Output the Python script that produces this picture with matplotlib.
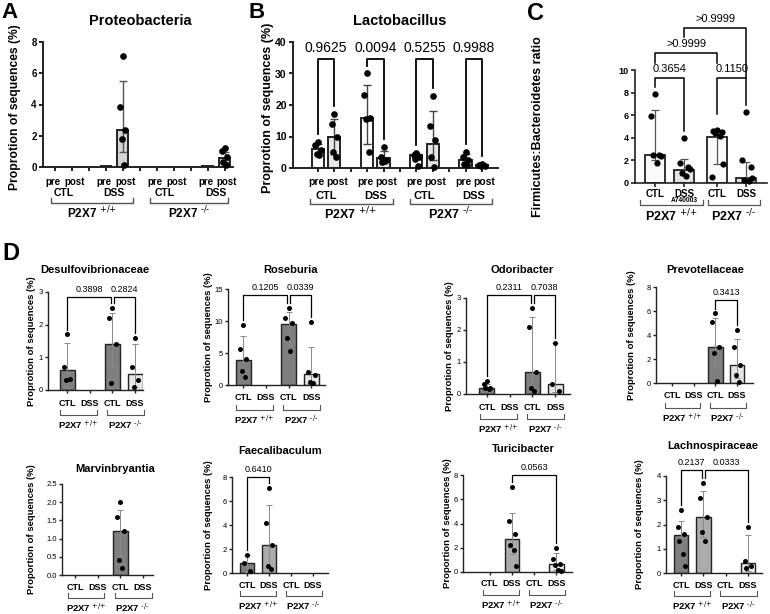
import numpy as np
import matplotlib.pyplot as plt

plt.rcParams['font.family'] = ['Liberation Sans', 'DejaVu Sans']
plt.rcParams['mathtext.default'] = 'regular'

nan = np.nan
W, H = 770, 614

# ---------------- data ----------------
# A - Proteobacteria (pre/post x CTL/DSS x genotype)
a_vals = [nan, nan, 0.06, 2.4, nan, nan, 0.06, 0.6]
a_lo = [nan, nan, nan, 0.95, nan, nan, nan, 0.35]
a_hi = [nan, nan, nan, 5.5, nan, nan, nan, 0.95]
a_pts = [[], [], [], [7.1, 3.85, 2.4, 1.8, 0.15], [], [], [], [1.2, 1.0, 0.65, 0.3, 0.15]]

# B - Lactobacillus
b_vals = [5.9, 9.9, 16.0, 3.3, 4.0, 7.5, 2.4, 1.0]
b_lo = [4.5, 4.5, 7.7, 2.0, 3.2, 2.5, 1.2, 0.7]
b_hi = [7.5, 15.6, 26.4, 5.4, 4.9, 18.0, 4.3, 1.3]
b_pts = [[8.2, 7.4, 5.6, 4.5, 4.0], [17.2, 14.0, 10.0, 5.0, 3.6],
         [30.0, 23.2, 16.0, 15.5, 5.1], [6.8, 3.5, 2.6, 1.9, 2.2],
         [4.7, 4.0, 3.5, 2.9, 0.5], [23.0, 13.2, 9.0, 3.5, 0.3],
         [5.1, 3.5, 2.4, 1.4, 0.8], [1.4, 0.8, 0.6, 0.5]]
b_pvals = ['0.9625', '0.0094', '0.5255', '0.9988']

# C - Firmicutes:Bacteroidetes ratio
c_vals = [2.5, 1.15, 4.1, 0.45]
c_lo = [2.0, 0.7, 1.7, 0.2]
c_hi = [6.5, 2.1, 4.7, 1.9]
c_pts = [[7.9, 5.9, 2.5, 2.5, 1.8, 2.4], [4.0, 1.8, 1.4, 0.9, 0.6, 1.2],
         [4.7, 4.6, 4.5, 4.4, 4.2, 1.7, 0.5], [6.3, 2.0, 1.4, 0.3, 0.2, 0.4]]
c_comps = [(0, 1, '0.3654', 9.3), (2, 3, '0.1150', 9.3),
           (0, 2, '>0.9999', 11.5), (1, 3, '>0.9999', 13.7)]

# D - genera (CTL+/+, DSS+/+, CTL-/-, DSS-/-)
d_titles = ['Desulfovibrionaceae', 'Roseburia', 'Odoribacter', 'Prevotellaceae',
            'Marvinbryantia', 'Faecalibaculum', 'Turicibacter', 'Lachnospiraceae']
d_ymax = [3, 15, 3, 8, 2.5, 8, 8, 4]
d_step = [1, 5, 1, 2, 0.5, 2, 2, 1]
d_vals = [[0.6, nan, 1.4, 0.5], [3.9, nan, 9.5, 1.7], [0.2, nan, 0.7, 0.3],
          [nan, nan, 3.0, 1.5], [nan, nan, 1.2, nan], [0.8, 2.3, nan, nan],
          [nan, 2.7, nan, 0.7], [1.55, 2.3, nan, 0.4]]
d_lo = [[0.1, nan, 0.7, 0.1], [1.8, nan, 6.3, 0.5], [0.1, nan, 0.1, 0.05],
        [nan, nan, 1.3, 0.4], [nan, nan, 0.3, nan], [0.1, 0.5, nan, nan],
        [nan, 1.5, nan, 0.2], [0.7, 1.5, nan, 0.1]]
d_hi = [[1.45, nan, 2.35, 1.4], [7.6, nan, 11.4, 6.0], [0.3, nan, 2.4, 1.6],
        [nan, nan, 5.4, 3.7], [nan, nan, 1.78, nan], [1.5, 5.7, nan, nan],
        [nan, 4.9, nan, 1.6], [2.15, 3.4, nan, 1.55]]
d_pts = [
    [[1.7, 0.7, 0.35, 0.3], [], [2.5, 2.2, 1.4, 0.2], [1.6, 0.7, 0.3, 0.1]],
    [[9.4, 5.7, 4.0, 2.2, 1.3], [], [12.1, 10.5, 9.7, 7.4, 5.3], [9.8, 2.1, 1.6, 0.5, 0.3]],
    [[0.4, 0.3, 0.2, 0.2, 0.15], [], [2.7, 2.1, 0.7, 0.2, 0.1], [1.6, 0.3, 0.1]],
    [[], [], [5.8, 5.1, 3.0, 2.5, 0.2], [4.4, 3.0, 1.5, 0.7, 0.1]],
    [[], [], [2.0, 1.6, 1.2, 0.4, 0.2], []],
    [[1.5, 0.8, 0.2], [7.1, 4.2, 2.3, 0.6, 0.3], [], []],
    [[], [7.0, 4.2, 3.1, 2.2, 1.8, 0.5], [], [2.0, 1.1, 0.7, 0.6, 0.2, 0.1]],
    [[2.6, 1.9, 1.6, 1.3, 0.8, 0.3], [3.7, 3.1, 2.3, 1.7, 1.3], [], [1.9, 0.5, 0.3, 0.2]],
]
d_comps = [[(0, 2, '0.3898'), (2, 3, '0.2824')], [(0, 2, '0.1205'), (2, 3, '0.0339')],
           [(0, 2, '0.2311'), (2, 3, '0.7038')], [(2, 3, '0.3413')], [],
           [(0, 1, '0.6410')], [(1, 3, '0.0563')], [(0, 1, '0.2137'), (1, 3, '0.0333')]]
d_comp_top = [2.85, 14.1, 3.1, 6.9, 0, 8.0, 8.0, 4.25]
d_ylabel = ['Proprotion'] * 4 + ['Proportion'] * 4

# layout: axes pixel boxes (x0, x1, ytop, ybot) and xlims
d_box = [(48, 143, 292, 390), (228, 325, 289, 385), (466, 570, 298, 394), (656, 753, 287, 383),
         (62, 153, 484, 575), (232, 328, 477, 573), (463, 572, 475, 572), (666, 762, 476, 573)]
d_xlim = [(-0.84, 3.35), (-0.66, 3.6), (-0.92, 3.65), (-0.73, 3.73),
          (-0.57, 3.44), (-0.68, 3.68), (-1.2, 3.7), (-0.67, 3.63)]
d_title_xy = [(95, 270), (290, 270), (522, 270), (705, 270),
              (115, 469), (280, 451), (523, 449), (713, 446)]
d_ylab_x = [31, 209, 449, 632, 32, 209, 448, 639]

jit = [0.0, -0.22, 0.22, -0.1, 0.12, 0.28, -0.28]

fig = plt.figure(figsize=(W / 100, H / 100), dpi=100)


def add_ax(x0, x1, ytop, ybot, xlim, ylim, lw):
    ax = fig.add_axes([x0 / W, 1 - ybot / H, (x1 - x0) / W, (ybot - ytop) / H])
    ax.set_xlim(*xlim)
    ax.set_ylim(*ylim)
    ax.patch.set_alpha(0)
    for s in ['top', 'right']:
        ax.spines[s].set_visible(False)
    for s in ['left', 'bottom']:
        ax.spines[s].set_linewidth(lw)
        ax.spines[s].set_color('#222222')
    ax.tick_params(width=lw, length=3, color='#222222', pad=1.5)
    return ax


def below(ax, px):
    # pixels below the x axis -> axes fraction
    return -px / (ax.get_position().height * H)


def draw_bars(ax, pos, vals, lo, hi, pts, colors, width, ms, lw, ecol, elw, cap):
    for x, v, l, h, p, c in zip(pos, vals, lo, hi, pts, colors):
        if np.isnan(v):
            continue
        ax.bar(x, v, width, color=c, edgecolor='#222222', linewidth=lw, zorder=2)
        if not np.isnan(h):
            ax.errorbar(x, v, yerr=[[v - l], [h - v]], fmt='none', ecolor=ecol,
                        elinewidth=elw, capsize=cap, capthick=elw, zorder=3)
        xs = [x + jit[i % len(jit)] * width for i in range(len(p))]
        ax.plot(xs, p, 'o', color='black', ms=ms, mew=0, zorder=4, clip_on=False)


def cat_labels(ax, pos, labels, px, size, weight='bold', dx=None):
    for i, (x, t) in enumerate(zip(pos, labels)):
        off = dx[i] if dx else 0
        ax.text(x + off, below(ax, px), t, transform=ax.get_xaxis_transform(), ha='center',
                va='center', fontsize=size, fontweight=weight)


def group_bracket(ax, x1, x2, px, tick, lw):
    y = below(ax, px)
    t = tick / (ax.get_position().height * H)
    ax.plot([x1, x1, x2, x2], [y + t, y, y, y + t], color='#555555', lw=lw,
            transform=ax.get_xaxis_transform(), clip_on=False)


def sig(ax, x1, x2, top, yl, yr, text, size, lw, pad):
    ax.plot([x1, x1, x2, x2], [yl, top, top, yr], color='black', lw=lw, clip_on=False, zorder=5)
    ax.annotate(text, ((x1 + x2) / 2, top), xytext=(0, pad), textcoords='offset points',
                ha='center', va='bottom', fontsize=size, annotation_clip=False)


def geno(ax, x, px, which, size):
    sup = '+/+' if which == 0 else '-/-'
    ax.text(x, below(ax, px), r'P2X7 $^{\text{' + sup + '}}$', transform=ax.get_xaxis_transform(),
            ha='center', va='center', fontsize=size, fontweight='bold')


def ylab(text, x, ax, size, dy=0):
    b = ax.get_position()
    fig.text(x / W, b.y0 + b.height / 2 - dy / H, text, rotation=90, ha='center', va='center',
             fontsize=size, fontweight='bold')


pp_pos = [0, 1, 3, 4, 6, 7, 9, 10]
pp_ticks = list(range(11))
pp_labels = ['pre', 'post'] * 4
pp_dx = [-0.1, 0.15] * 4

# ---------------- A ----------------
ax = add_ax(43, 233, 42, 167, (-0.7, 10.5), (0, 8), 1.4)
draw_bars(ax, pp_pos, a_vals, a_lo, a_hi, a_pts, ['#d4d4d4'] * 8, 0.62, 4.8, 1.4, '#555555', 1.0, 3)
ax.set_yticks([0, 2, 4, 6, 8])
ax.set_xticks(pp_ticks)
ax.set_xticklabels([])
for t in ax.get_yticklabels():
    t.set_fontsize(7)
    t.set_fontweight('bold')
cat_labels(ax, pp_pos, pp_labels, 15, 7, dx=pp_dx)
cat_labels(ax, [0.5, 3.5, 6.5, 9.5], ['CTL', 'DSS', 'CTL', 'DSS'], 26, 7.5)
group_bracket(ax, -0.2, 4.6, 36, 5, 1.0)
group_bracket(ax, 5.6, 10.2, 36, 5, 1.0)
geno(ax, 2.2, 46, 0, 8.5)
geno(ax, 7.9, 46, 1, 8.5)
fig.text(140 / W, 1 - 21 / H, 'Proteobacteria', ha='center', va='center', fontsize=10.5, fontweight='bold')
ylab('Proprotion of sequences (%)', 15, ax, 8.7, dy=3)
fig.text(1 / W, 1 - 12 / H, 'A', ha='left', va='center', fontsize=16, fontweight='bold')

# ---------------- B ----------------
ax = add_ax(293, 498, 42, 168, (-1.52, 10.98), (0, 40), 1.4)
b_cols = ['white', '#e6e6e6'] * 4
draw_bars(ax, pp_pos, b_vals, b_lo, b_hi, b_pts, b_cols, 0.75, 4.8, 1.4, '#444444', 1.0, 3)
ax.set_yticks([0, 10, 20, 30, 40])
ax.set_xticks(pp_ticks)
ax.set_xticklabels([])
for t in ax.get_yticklabels():
    t.set_fontsize(7.5)
    t.set_fontweight('bold')
for i, p in enumerate(b_pvals):
    x1, x2 = pp_pos[2 * i], pp_pos[2 * i + 1]
    yl = max(b_pts[2 * i] + [b_hi[2 * i]]) + 2.5
    yr = max(b_pts[2 * i + 1] + [b_hi[2 * i + 1]]) + 2.5
    sig(ax, x1, x2, 34.5, yl, yr, p, 10, 1.3, 3)
cat_labels(ax, pp_pos, pp_labels, 14, 7.5, dx=pp_dx)
cat_labels(ax, [0.5, 3.5, 6.5, 9.5], ['CTL', 'DSS', 'CTL', 'DSS'], 28, 8)
group_bracket(ax, -0.5, 4.57, 36, 5, 1.0)
group_bracket(ax, 5.6, 10.6, 36, 5, 1.0)
geno(ax, 2.0, 46, 0, 9)
geno(ax, 8.1, 46, 1, 9)
fig.text(400 / W, 1 - 21 / H, 'Lactobacillus', ha='center', va='center', fontsize=10.5, fontweight='bold')
ylab('Proprotion of sequences (%)', 268, ax, 9, dy=3)
fig.text(249 / W, 1 - 12 / H, 'B', ha='left', va='center', fontsize=16, fontweight='bold')

# ---------------- C ----------------
c_pos = [0, 1, 2.15, 3.15]
ax = add_ax(635, 767, 70, 183, (-0.69, 3.86), (0, 10), 1.2)
draw_bars(ax, c_pos, c_vals, c_lo, c_hi, c_pts, ['#fafafa', '#e4e4e4', '#fafafa', '#e4e4e4'],
          0.69, 4.5, 1.3, '#555555', 0.9, 3)
ax.set_yticks([0, 2, 4, 6, 8, 10])
ax.set_xticks(c_pos)
ax.set_xticklabels([])
for t in ax.get_yticklabels():
    t.set_fontsize(6.5)
    t.set_fontweight('bold')
legs = {(0, 1): (8.5, 4.6), (2, 3): (6.1, 6.9), (0, 2): (10.6, 10.6), (1, 3): (12.9, 9.3)}
for i, j, p, top in c_comps:
    yl, yr = legs[(i, j)]
    sig(ax, c_pos[i], c_pos[j], top, yl, yr, p, 8, 1.1, 3)
cat_labels(ax, c_pos, ['CTL', 'DSS', 'CTL', 'DSS'], 11, 7)
cat_labels(ax, [1], ['A740003'], 18, 4.8)
group_bracket(ax, -0.52, 1.66, 22, 5, 0.9)
group_bracket(ax, 1.83, 3.62, 22, 5, 0.9)
geno(ax, 0.57, 33, 0, 9)
geno(ax, 2.72, 33, 1, 9)
ylab('Firmicutes:Bacteroidetes ratio', 538, ax, 9)
fig.text(527 / W, 1 - 13 / H, 'C', ha='left', va='center', fontsize=17, fontweight='bold')

# ---------------- D ----------------
fig.text(2 / W, 1 - 254 / H, 'D', ha='left', va='center', fontsize=17, fontweight='bold')
d_cols = ['#7f7f7f', '#ababab', '#7f7f7f', '#e6e6e6']
d_pos = [0, 1, 2, 3]
for k in range(8):
    x0, x1, yt, yb = d_box[k]
    ymax = d_ymax[k]
    ax = add_ax(x0, x1, yt, yb, d_xlim[k], (0, ymax), 1.0)
    draw_bars(ax, d_pos, d_vals[k], d_lo[k], d_hi[k], d_pts[k], d_cols, 0.66, 3.6,
              1.0, '#888888', 0.7, 2.2)
    ax.set_yticks(np.arange(0, ymax + 0.01, d_step[k]))
    if d_step[k] < 1:
        ax.set_yticklabels(['%.1f' % v for v in np.arange(0, ymax + 0.01, d_step[k])])
    ax.tick_params(length=2.5, labelsize=5.5, pad=1)
    ax.set_xticks(d_pos)
    ax.set_xticklabels([])
    # significance brackets
    comps = d_comps[k]
    shared = [c[1] for c in comps if any(c[1] == o[0] for o in comps)]
    for i, j, p in comps:
        xi = d_pos[i] + (0.07 if i in shared else 0)
        xj = d_pos[j] - (0.07 if j in shared else 0)
        yl = max(d_pts[k][i] + [0]) + 0.05 * ymax
        yr = max(d_pts[k][j] + [0]) + 0.05 * ymax
        sig(ax, xi, xj, d_comp_top[k], yl, yr, p, 6.5, 0.9, 2)
    top_row = k < 4
    cat_labels(ax, d_pos, ['CTL', 'DSS', 'CTL', 'DSS'], 13 if top_row else 12, 6.5)
    gb = 25 if top_row else 23
    group_bracket(ax, -0.3, 1.3, gb, 5, 0.8)
    group_bracket(ax, 1.75, 3.4, gb, 5, 0.8)
    geno(ax, 0.5, gb + 10, 0, 6.8)
    geno(ax, 2.55, gb + 10, 1, 6.8)
    tx, ty = d_title_xy[k]
    fig.text(tx / W, 1 - ty / H, d_titles[k], ha='center', va='center', fontsize=8, fontweight='bold')
    ylab(d_ylabel[k] + ' of sequences (%)', d_ylab_x[k], ax, 6.8)

fig.savefig('out.png', dpi=100)
